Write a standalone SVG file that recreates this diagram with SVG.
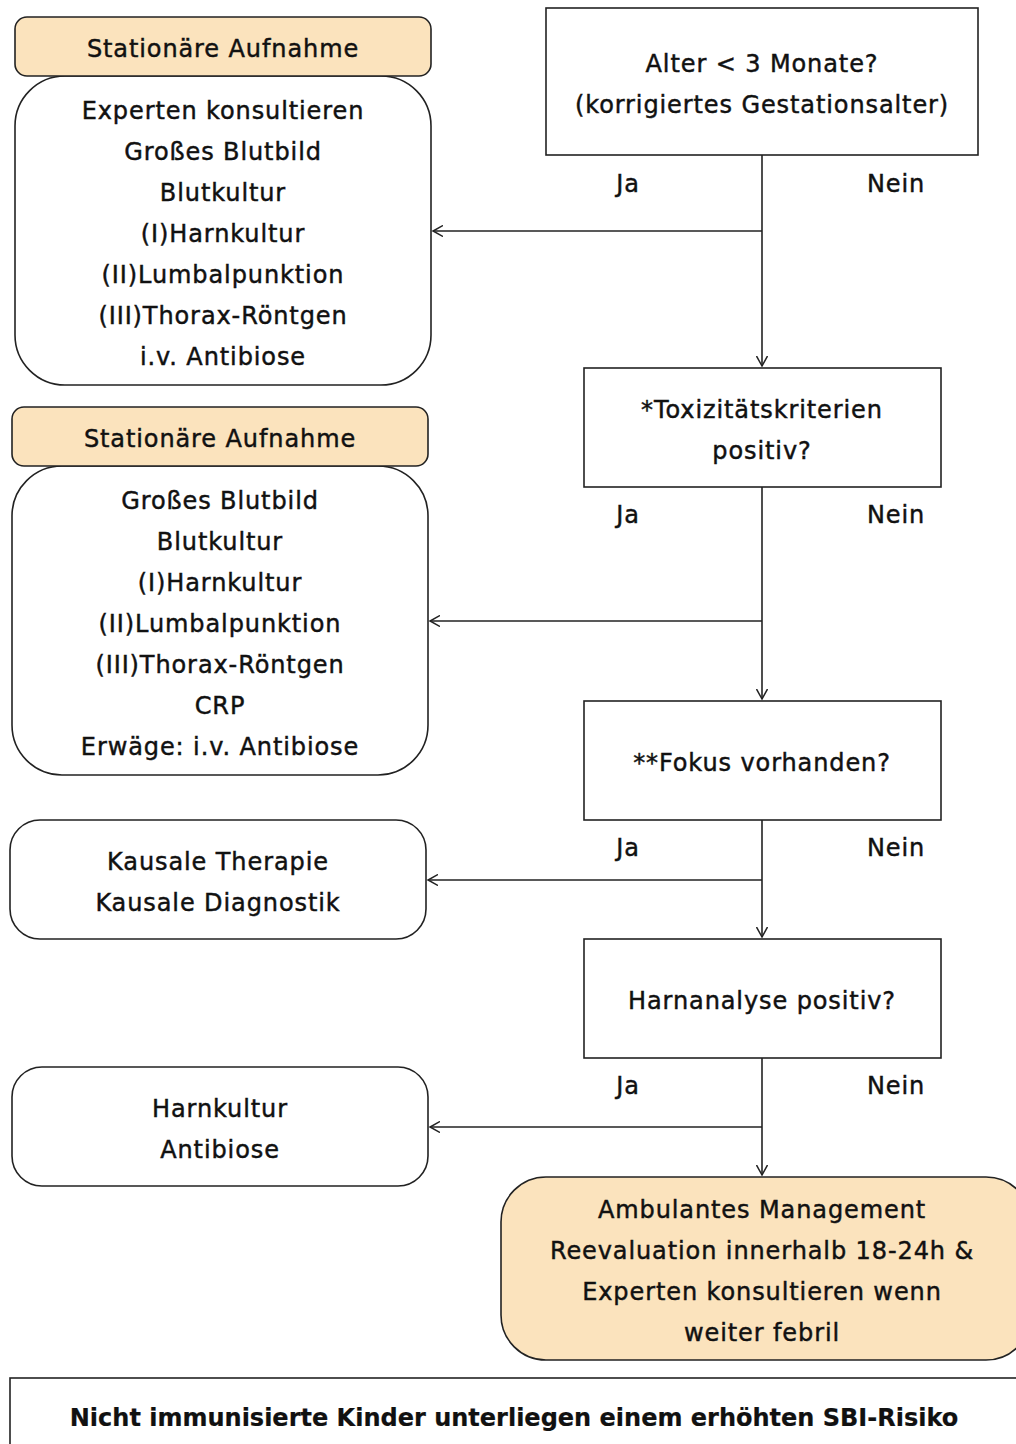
<svg xmlns="http://www.w3.org/2000/svg" width="1016" height="1444" viewBox="0 0 1016 1444">
<defs>
<marker id="arr" markerWidth="12" markerHeight="12" refX="10" refY="6" orient="auto" markerUnits="userSpaceOnUse">
<path d="M0,0.5 L10,6 L0,11.5" fill="none" stroke="#222" stroke-width="1.5"/>
</marker>
<style>
text{font-family:"DejaVu Sans","Liberation Sans",sans-serif;font-size:24px;fill:#111;stroke:#111;stroke-width:0.45px;text-anchor:middle;letter-spacing:0.9px}
.b{font-weight:bold;letter-spacing:0;stroke-width:0.2px}
.box{fill:#fff;stroke:#222;stroke-width:1.6}
.hdr{fill:#fbe3bd;stroke:#222;stroke-width:1.6}
.con{fill:none;stroke:#222;stroke-width:1.6}
</style>
</defs>
<rect width="1016" height="1444" fill="#fff"/>

<g id="connectors">
<path class="con" d="M762,155 V366" marker-end="url(#arr)"/>
<path class="con" d="M762,231 H433" marker-end="url(#arr)"/>
<path class="con" d="M762,487 V699" marker-end="url(#arr)"/>
<path class="con" d="M762,621 H430" marker-end="url(#arr)"/>
<path class="con" d="M762,820 V937" marker-end="url(#arr)"/>
<path class="con" d="M762,880 H428" marker-end="url(#arr)"/>
<path class="con" d="M762,1058 V1175" marker-end="url(#arr)"/>
<path class="con" d="M762,1127 H430" marker-end="url(#arr)"/>
<text x="628" y="192">Ja</text><text x="896" y="192">Nein</text>
<text x="628" y="523">Ja</text><text x="896" y="523">Nein</text>
<text x="628" y="856">Ja</text><text x="896" y="856">Nein</text>
<text x="628" y="1094">Ja</text><text x="896" y="1094">Nein</text>
</g>

<g id="q1">
<rect class="box" x="546" y="8" width="432" height="147"/>
<text x="762" y="72">Alter &lt; 3 Monate?</text>
<text x="762" y="113">(korrigiertes Gestationsalter)</text>
</g>

<g id="q2">
<rect class="box" x="584" y="368" width="357" height="119"/>
<text x="762" y="418">*Toxizitätskriterien</text>
<text x="762" y="459">positiv?</text>
</g>

<g id="q3">
<rect class="box" x="584" y="701" width="357" height="119"/>
<text x="762" y="771">**Fokus vorhanden?</text>
</g>

<g id="q4">
<rect class="box" x="584" y="939" width="357" height="119"/>
<text x="762" y="1009">Harnanalyse positiv?</text>
</g>

<g id="ambulant">
<rect class="hdr" x="501" y="1177" width="530" height="183" rx="45"/>
<text x="762" y="1218">Ambulantes Management</text>
<text x="762" y="1259">Reevaluation innerhalb 18-24h &amp;</text>
<text x="762" y="1300">Experten konsultieren wenn</text>
<text x="762" y="1341">weiter febril</text>
</g>

<g id="note">
<rect class="box" x="10" y="1378" width="1020" height="80"/>
<text class="b" x="514" y="1426">Nicht immunisierte Kinder unterliegen einem erhöhten SBI-Risiko</text>
</g>

<g id="a1">
<rect class="box" x="15" y="76" width="416" height="309" rx="50"/>
<rect class="hdr" x="15" y="17" width="416" height="59" rx="12"/>
<text x="223" y="57">Stationäre Aufnahme</text>
<text x="223" y="119">Experten konsultieren</text>
<text x="223" y="160">Großes Blutbild</text>
<text x="223" y="201">Blutkultur</text>
<text x="223" y="242">(I)Harnkultur</text>
<text x="223" y="283">(II)Lumbalpunktion</text>
<text x="223" y="324">(III)Thorax-Röntgen</text>
<text x="223" y="365">i.v. Antibiose</text>
</g>

<g id="a2">
<rect class="box" x="12" y="466" width="416" height="309" rx="50"/>
<rect class="hdr" x="12" y="407" width="416" height="59" rx="12"/>
<text x="220" y="447">Stationäre Aufnahme</text>
<text x="220" y="509">Großes Blutbild</text>
<text x="220" y="550">Blutkultur</text>
<text x="220" y="591">(I)Harnkultur</text>
<text x="220" y="632">(II)Lumbalpunktion</text>
<text x="220" y="673">(III)Thorax-Röntgen</text>
<text x="220" y="714">CRP</text>
<text x="220" y="755">Erwäge: i.v. Antibiose</text>
</g>

<g id="a3">
<rect class="box" x="10" y="820" width="416" height="119" rx="30"/>
<text x="218" y="870">Kausale Therapie</text>
<text x="218" y="911">Kausale Diagnostik</text>
</g>

<g id="a4">
<rect class="box" x="12" y="1067" width="416" height="119" rx="30"/>
<text x="220" y="1117">Harnkultur</text>
<text x="220" y="1158">Antibiose</text>
</g>
</svg>
